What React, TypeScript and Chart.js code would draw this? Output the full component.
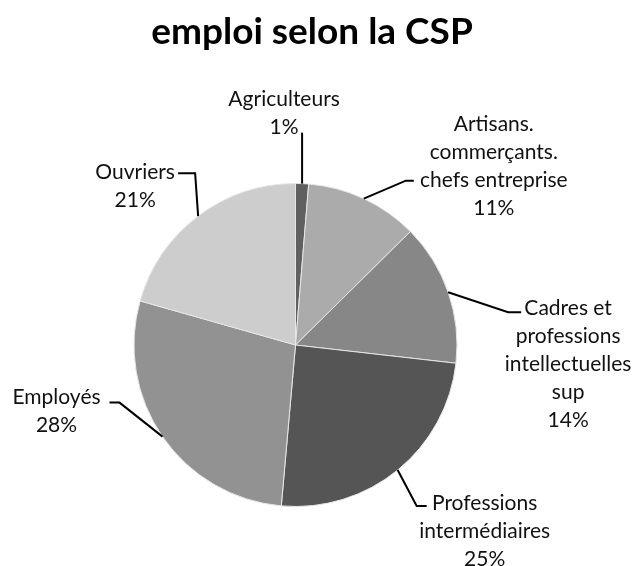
import React, { useEffect, useRef } from "react";
import { Chart, registerables } from "chart.js";

Chart.register(...registerables);

const TITLE = "emploi selon la CSP";
const categories = [
  "Agriculteurs",
  "Artisans.\ncommerçants.\nchefs entreprise",
  "Cadres et\nprofessions\nintellectuelles\nsup",
  "Professions\nintermédiaires",
  "Employés",
  "Ouvriers",
];
const values = [1.3, 11.3, 14.2, 24.6, 28.0, 20.6];
const colors = ["#606060", "#ababab", "#878787", "#555555", "#929292", "#cdcdcd"];

// leader-line / label placement (style): elbow offset from slice edge, horizontal tail, text offset
const labelLayout = [
  { edx: 0, edy: -51, tail: 0, tx: -18, ty: -33 },
  { edx: 42, edy: -18, tail: 8, tx: 80, ty: -56 },
  { edx: 60, edy: 20, tail: 13, tx: 47, ty: -4 },
  { edx: 19, edy: 36, tail: 10, tx: 58, ty: -3 },
  { edx: -43, edy: -34, tail: -10, tx: -53, ty: -5 },
  { edx: -3, edy: -43, tail: -17, tx: -43, ty: -1 },
];

const LABEL_FONT = "21px Lato";
const LINE_H = 28;

const labelPlugin = {
  id: "pieLabels",
  afterDatasetsDraw(chart: any) {
    const ctx = chart.ctx;
    const meta = chart.getDatasetMeta(0);
    const data = chart.data.datasets[0].data as number[];
    const total = data.reduce((a, b) => a + b, 0);
    ctx.save();
    meta.data.forEach((arc: any, i: number) => {
      const { x, y, startAngle, endAngle, outerRadius } = arc.getProps(
        ["x", "y", "startAngle", "endAngle", "outerRadius"],
        true
      );
      const mid = (startAngle + endAngle) / 2;
      const ex = x + outerRadius * Math.cos(mid);
      const ey = y + outerRadius * Math.sin(mid);
      const L = labelLayout[i];
      const bx = ex + L.edx;
      const by = ey + L.edy;
      const tx = bx + L.tail;
      ctx.strokeStyle = "#000";
      ctx.lineWidth = 2;
      ctx.beginPath();
      ctx.moveTo(ex, ey);
      ctx.lineTo(bx, by);
      ctx.lineTo(tx, by);
      ctx.stroke();
      const lines = String(chart.data.labels[i]).split("\n");
      lines.push(Math.round((data[i] / total) * 100) + "%");
      ctx.font = LABEL_FONT;
      ctx.fillStyle = "#111";
      ctx.textAlign = "center";
      ctx.textBaseline = "middle";
      lines.forEach((ln, k) => {
        ctx.fillText(ln, tx + L.tx, by + L.ty + k * LINE_H);
      });
    });
    ctx.restore();
  },
  afterDraw(chart: any) {
    const ctx = chart.ctx;
    ctx.save();
    ctx.font = "bold 37px Lato";
    ctx.fillStyle = "#000";
    ctx.textAlign = "center";
    ctx.textBaseline = "alphabetic";
    ctx.fillText(TITLE, 312, 44);
    ctx.restore();
  },
};

export default function App() {
  const ref = useRef<HTMLCanvasElement | null>(null);
  useEffect(() => {
    document.body.style.margin = "0";
    const chart = new Chart(ref.current!, {
      type: "pie",
      data: {
        labels: categories,
        datasets: [
          {
            data: values,
            backgroundColor: colors,
            borderColor: "#e6e6e6",
            borderWidth: 1,
          },
        ],
      },
      options: {
        responsive: false,
        animation: false,
        layout: { padding: { top: 183, bottom: 59, left: 100, right: 145 } },
        plugins: {
          legend: { display: false },
          tooltip: { enabled: false },
          title: { display: false },
        },
      },
      plugins: [labelPlugin],
    });
    return () => chart.destroy();
  }, []);
  return (
    <div style={{ width: 636, height: 566, background: "#fff" }}>
      <canvas ref={ref} width={636} height={566} />
    </div>
  );
}
